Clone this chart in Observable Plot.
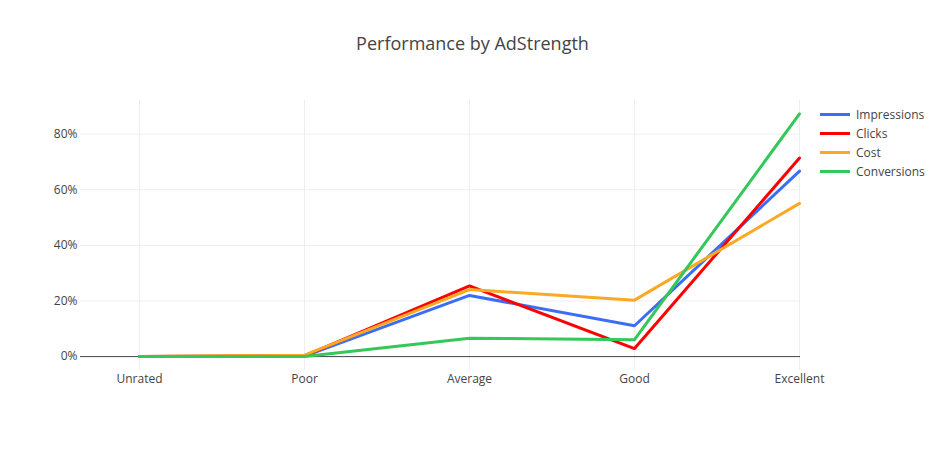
<!DOCTYPE html>
<html>
<head>
<meta charset="utf-8">
<script src="https://cdn.jsdelivr.net/npm/d3@7"></script>
<script src="https://cdn.jsdelivr.net/npm/@observablehq/plot@0.6"></script>
<style>
  html, body { margin: 0; padding: 0; background: #fff; }
  #wrap { position: relative; width: 945px; height: 450px; font-family: "Open Sans", "DejaVu Sans", sans-serif; }
  #title { position: absolute; left: 0; width: 945px; top: 31px; text-align: center; font-size: 18px; color: #444; }
  #legend { position: absolute; left: 820px; top: 105px; font-size: 12px; color: #444; }
  .item { display: flex; align-items: center; height: 19px; }
  .sw { width: 30px; height: 3px; margin-right: 6px; }
</style>
</head>
<body>
<div id="wrap">
  <div id="title">Performance by AdStrength</div>
  <div id="legend"></div>
  <div id="chart"></div>
</div>
<script>
const categories = ["Unrated", "Poor", "Average", "Good", "Excellent"];
const seriesNames = ["Impressions", "Clicks", "Cost", "Conversions"];
const seriesColors = ["#3b6ef6", "#ff0000", "#fba825", "#34c759"];
const impressions = [0, 0.002, 0.220, 0.111, 0.667];
const clicks = [0, 0.003, 0.254, 0.029, 0.714];
const cost = [0, 0.005, 0.241, 0.203, 0.551];
const conversions = [0, 0.000, 0.066, 0.061, 0.873];
const yTicks = [0, 0.2, 0.4, 0.6, 0.8];

const seriesValues = [impressions, clicks, cost, conversions];
const rows = [];
seriesNames.forEach((s, i) => {
  categories.forEach((c, j) => rows.push({series: s, category: c, value: seriesValues[i][j]}));
});

const chart = Plot.plot({
  width: 945,
  height: 450,
  marginLeft: 80,
  marginRight: 145,
  marginTop: 100,
  marginBottom: 80,
  style: {fontFamily: "'Open Sans', 'DejaVu Sans', sans-serif", fontSize: "12px", color: "#444", background: "#fff"},
  x: {type: "point", domain: categories, range: [138, 800], padding: 0, label: null, tickSize: 0, tickPadding: 4},
  y: {domain: [-0.05, 0.921], ticks: yTicks, tickFormat: d3.format(".0%"), label: null, tickSize: 0, tickPadding: 3},
  color: {domain: seriesNames, range: seriesColors},
  marks: [
    Plot.gridX(categories, {stroke: "#eee", strokeOpacity: 1, strokeWidth: 1}),
    Plot.gridY(yTicks.filter(d => d !== 0), {stroke: "#eee", strokeOpacity: 1, strokeWidth: 1}),
    Plot.ruleY([0], {stroke: "#444", strokeWidth: 1}),
    Plot.line(rows, {x: "category", y: "value", z: "series", stroke: "series", strokeWidth: 3, strokeLinejoin: "round"})
  ]
});
document.getElementById("chart").appendChild(chart);

const legend = document.getElementById("legend");
seriesNames.forEach((s, i) => {
  const it = document.createElement("div");
  it.className = "item";
  it.innerHTML = `<div class="sw" style="background:${seriesColors[i]}"></div><span>${s}</span>`;
  legend.appendChild(it);
});
</script>
</body>
</html>
